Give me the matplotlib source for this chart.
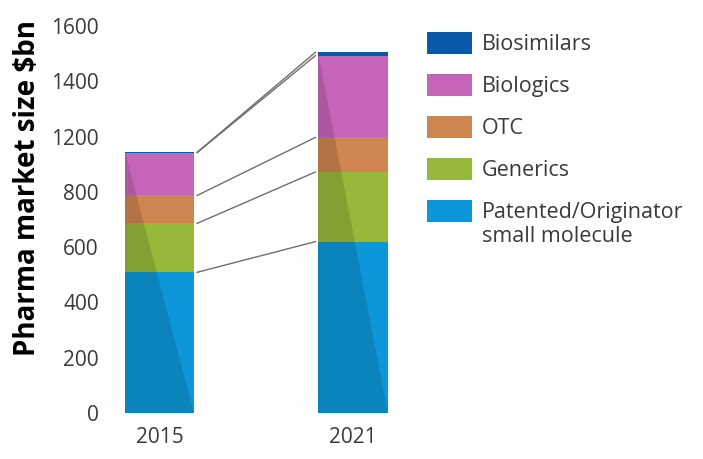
import numpy as np
import matplotlib
matplotlib.use("Agg")
import matplotlib.pyplot as plt
from matplotlib.patches import Rectangle, Polygon

plt.rcParams['font.family'] = ['Open Sans', 'DejaVu Sans']

years = ["2015", "2021"]
segments = ["Patented/Originator\nsmall molecule", "Generics", "OTC", "Biologics", "Biosimilars"]
colors = ["#0d97da", "#97b93a", "#cf8550", "#c665b8", "#0a5aaa"]
values_2015 = [509, 177, 101, 155, 1]
values_2021 = [620, 252, 125, 296, 12]
tick_pos = [0, 200, 400, 600, 800, 1000, 1200, 1400]
tick_labels = ["0", "200", "400", "600", "800", "1200", "1400", "1600"]

W, H = 703, 459
fig = plt.figure(figsize=(W / 100, H / 100), dpi=100)
ax = fig.add_axes([110 / W, (H - 413) / H, (400 - 110) / W, (413 - 10) / H])

data = np.array([values_2015, values_2021])
x = np.arange(len(years))
bw = 0.3566
bottoms = np.zeros(len(years))
for j, seg in enumerate(segments):
    ax.bar(x, data[:, j], bw, bottom=bottoms, color=colors[j], linewidth=0)
    bottoms += data[:, j]

# darker triangle on left/lower part of each bar
for i in x:
    top = data[i].sum()
    tri = Polygon([[i - bw / 2, top], [i - bw / 2, 0], [i + bw / 2, 0]],
                  closed=True, facecolor="black", alpha=0.13, linewidth=0)
    ax.add_patch(tri)

# connector lines between the bars
cum0 = np.cumsum(values_2015)
cum1 = np.cumsum(values_2021)
gap = 0.016
for a, b in zip(cum0, cum1):
    ax.plot([0 + bw / 2 + gap, 1 - bw / 2 - gap], [a, b], color="#6e6e6e", lw=1.0)

ax.set_xlim(-(159.5 - 110) / 193.5, 1 + (400 - 353) / 193.5)
ax.set_ylim(0, (413 - 10) / 0.2764)
ax.set_yticks(tick_pos)
ax.set_yticklabels(tick_labels)
ax.set_xticks(x)
ax.set_xticklabels(years)
ax.tick_params(length=0, labelsize=15, labelcolor="#3a3a3a")
ax.tick_params(axis="y", pad=8)
ax.tick_params(axis="x", pad=10)
for s in ax.spines.values():
    s.set_visible(False)

fig.text(28 / W, 1 - 188 / H, "Pharma market size $bn", rotation=90,
         ha="center", va="center", fontsize=20, fontweight="bold", color="black")

# legend, top entry first
for k, j in enumerate(range(len(segments) - 1, -1, -1)):
    yc = 43 + 42 * k
    fig.add_artist(Rectangle((427 / W, 1 - (yc + 11) / H), 45 / W, 22 / H,
                             transform=fig.transFigure, facecolor=colors[j], linewidth=0))
    fig.text(482 / W, 1 - (yc - 9) / H, segments[j], ha="left", va="top",
             fontsize=15.5, color="#3a3a3a", linespacing=1.2)

fig.savefig("out.png", dpi=100)
